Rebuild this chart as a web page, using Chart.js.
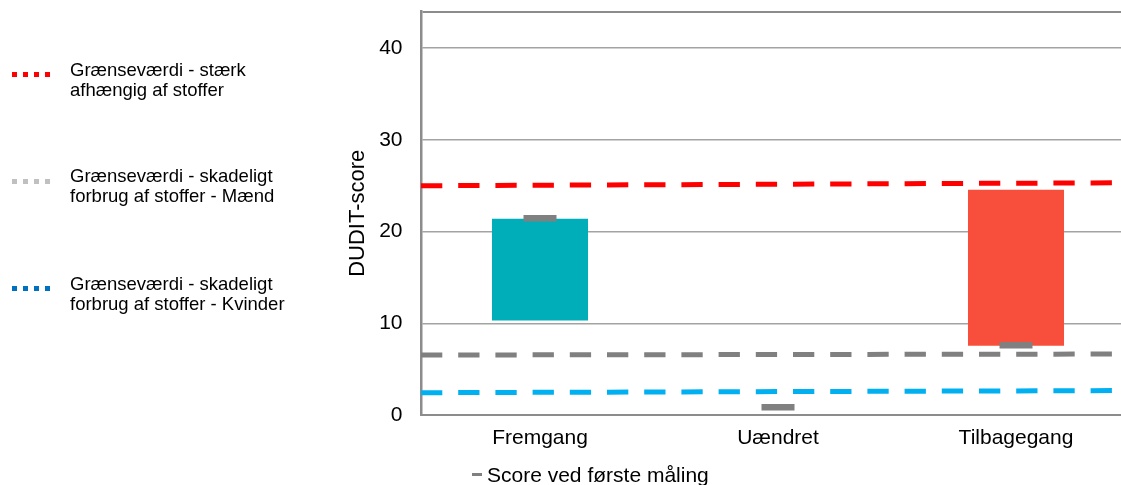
<!DOCTYPE html>
<html lang="da">
<head>
<meta charset="utf-8">
<title>DUDIT-score</title>
<script src="https://cdn.jsdelivr.net/npm/chart.js@4.4.1/dist/chart.umd.min.js"></script>
<style>
  html, body { margin: 0; padding: 0; background: #fff; overflow: hidden; }
  body { width: 1121px; height: 485px; position: relative; font-family: "Liberation Sans", Arial, sans-serif; color: #000; }
  #chart { position: absolute; left: 0; top: 0; }
  .key { position: absolute; left: 0; }
  .key .swatch { position: absolute; left: 12px; width: 38px; height: 5px; }
  .key .txt { position: absolute; left: 70px; top: 0; font-size: 18.5px; line-height: 20px; white-space: pre-line; width: 280px; }
  #firstKey { position: absolute; left: 472px; top: 464px; font-size: 21px; line-height: 21px; white-space: nowrap; }
  #firstKey .mark { position: absolute; left: 0; top: 8.5px; width: 10px; height: 3px; background: #808080; }
  #firstKey .txt { position: absolute; left: 15px; top: 0; }
</style>
</head>
<body>
<canvas id="chart" width="1140" height="485"></canvas>
<div id="keys"></div>
<div id="firstKey"><span class="mark"></span><span class="txt"></span></div>
<script>
// Categories and values (DUDIT-score)
const categories = ['Fremgang', 'Uændret', 'Tilbagegang'];
const changeLow = [10.3, null, 7.55];
const changeHigh = [21.4, null, 24.55];
const changeColors = ['#00aeb9', '#f84f3d', '#f84f3d'];
const firstScore = [21.45, 0.85, 7.6];
const firstScoreLabel = 'Score ved første måling';

// Threshold lines: value at the left edge and at the right edge of the plot
const thresholdNames = [
  'Grænseværdi - stærk\nafhængig af stoffer',
  'Grænseværdi - skadeligt\nforbrug af stoffer - Mænd',
  'Grænseværdi - skadeligt\nforbrug af stoffer - Kvinder'
];
const thresholdStrong = [25.0, 25.33];
const thresholdMen = [6.54, 6.65];
const thresholdWomen = [2.43, 2.67];
const thresholdLineColors = ['#ff0000', '#808080', '#00b0f0'];
const thresholdKeyColors = ['#ff0000', '#c0c0c0', '#0070c0'];

const yTicks = [0, 10, 20, 30, 40];
const yMax = 44;

Chart.defaults.font.family = '"Liberation Sans", Arial, sans-serif';
Chart.defaults.color = '#000';

// Dashed threshold lines across the whole plot, placed with the y scale
const thresholdLines = {
  id: 'thresholdLines',
  beforeDatasetsDraw(chart) {
    const { ctx, chartArea: a, scales: { y } } = chart;
    const sets = [thresholdStrong, thresholdMen, thresholdWomen];
    ctx.save();
    ctx.lineWidth = 5;
    ctx.lineCap = 'butt';
    ctx.setLineDash([21.3, 15.9]);
    sets.forEach((v, i) => {
      ctx.strokeStyle = thresholdLineColors[i];
      ctx.beginPath();
      ctx.moveTo(a.left, y.getPixelForValue(v[0]));
      ctx.lineTo(a.right, y.getPixelForValue(v[1]));
      ctx.stroke();
    });
    ctx.restore();
  }
};

const floating = categories.map((c, i) => changeLow[i] == null ? null : [changeLow[i], changeHigh[i]]);

new Chart(document.getElementById('chart'), {
  type: 'bar',
  data: {
    labels: categories,
    datasets: [
      {
        type: 'line',
        label: firstScoreLabel,
        data: firstScore,
        showLine: false,
        pointStyle: 'line',
        pointRadius: 16.5,
        pointBorderWidth: 6.5,
        pointBorderColor: '#808080',
        borderColor: '#808080',
        order: 0
      },
      {
        type: 'bar',
        label: 'Ændring',
        data: floating,
        backgroundColor: changeColors,
        borderWidth: 0,
        barPercentage: 1,
        categoryPercentage: 0.4034,
        order: 1
      }
    ]
  },
  plugins: [thresholdLines],
  options: {
    responsive: false,
    animation: false,
    devicePixelRatio: 1,
    layout: { autoPadding: false, padding: { left: 341, top: 11.5, right: 5, bottom: 35 } },
    plugins: { legend: { display: false }, tooltip: { enabled: false } },
    scales: {
      x: {
        type: 'category',
        offset: true,
        grid: { display: false, drawTicks: false },
        border: { display: true, color: '#8c8c8c', width: 2 },
        ticks: { padding: 11, font: { size: 21 }, color: '#000' },
        afterFit: s => { s.height = 35; s.paddingLeft = 0; s.paddingRight = 0; }
      },
      y: {
        min: 0,
        max: yMax,
        afterBuildTicks: s => { s.ticks = yTicks.concat([yMax]).map(v => ({ value: v })); },
        afterFit: s => { s.width = 80; s.paddingTop = 0; s.paddingBottom = 0; },
        grid: {
          drawTicks: false,
          color: c => (c.tick && c.tick.value === yMax) ? '#8c8c8c' : '#a3a3a3',
          lineWidth: c => (c.tick && c.tick.value === yMax) ? 2 : 1.5
        },
        border: { display: true, color: '#8c8c8c', width: 2.5 },
        ticks: {
          padding: 18.5,
          font: { size: 21 },
          color: '#000',
          callback: v => yTicks.includes(v) ? String(v) : ''
        },
        title: { display: true, text: 'DUDIT-score', font: { size: 22 }, color: '#000', padding: { top: 4, bottom: 4 } }
      }
    }
  }
});

// Keys for the threshold lines on the left
const keyTops = [59.6, 166.3, 273.6];
const keys = document.getElementById('keys');
thresholdNames.forEach((name, i) => {
  const item = document.createElement('div');
  item.className = 'key';
  item.style.top = keyTops[i] + 'px';
  const sw = document.createElement('div');
  sw.className = 'swatch';
  sw.style.top = '12.5px';
  sw.style.background = 'repeating-linear-gradient(to right, ' + thresholdKeyColors[i] + ' 0 5px, transparent 5px 11px)';
  const txt = document.createElement('div');
  txt.className = 'txt';
  txt.textContent = name;
  item.appendChild(sw);
  item.appendChild(txt);
  keys.appendChild(item);
});
document.querySelector('#firstKey .txt').textContent = firstScoreLabel;
</script>
</body>
</html>
